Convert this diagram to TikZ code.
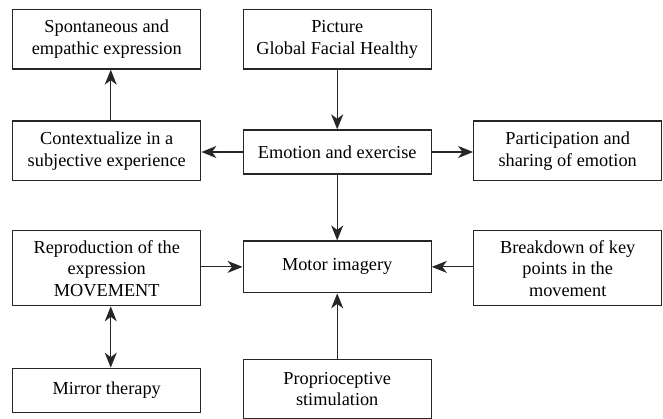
\documentclass[tikz,border=0pt]{standalone}
\usepackage{fontspec}
\setmainfont{Liberation Serif}
\usetikzlibrary{arrows.meta}
\begin{document}
\begin{tikzpicture}[x=1pt,y=-1pt,
  box/.style={draw=black!85, line width=1.3pt, minimum width=188pt, inner sep=0pt, align=center,
    font=\fontsize{18.3}{21.5}\selectfont, text=black},
  arr/.style={line width=1.1pt, draw=black!85, -{Stealth[length=15pt,width=12pt,inset=4.5pt]}},
  darr/.style={line width=1.1pt, draw=black!85, {Stealth[length=15pt,width=12pt,inset=4.5pt]}-{Stealth[length=15pt,width=12pt,inset=4.5pt]}}]
\useasboundingbox (0,0) rectangle (663,419);
\node[box, minimum height=59.7pt] (b1) at (106.75,39.2) {Spontaneous and\\empathic expression};
\node[box, minimum height=59.7pt] (b2) at (337.2,39.2) {Picture\\Global Facial Healthy};
\node[box, minimum height=59.7pt] (b3) at (106.75,150.9) {Contextualize in a\\subjective experience};
\node[box, minimum height=44pt] (b4) at (337.2,152) {Emotion and exercise};
\node[box, minimum height=59.7pt] (b5) at (567.7,150.9) {Participation and\\sharing of emotion};
\node[box, minimum height=75pt] (b6) at (106.75,268.2) {Reproduction of the\\expression\\MOVEMENT};
\node[box, minimum height=51.7pt] (b7) at (337.2,266.9) {Motor imagery};
\node[box, minimum height=75pt] (b8) at (567.7,268.2) {Breakdown of key\\points in the\\movement};
\node[box, minimum height=44pt] (b9) at (106.75,390.3) {Mirror therapy};
\node[box, minimum height=59.7pt] (b10) at (337.2,389.2) {Proprioceptive\\stimulation};
\draw[arr] (b2) -- (b4);
\draw[arr] ([xshift=4pt]b3.north) -- ([xshift=4pt]b3.north |- b1.south);
\draw[arr] (b4.west) -- (b3.east |- b4.west);
\draw[arr] (b4.east) -- (b5.west |- b4.east);
\draw[arr] (b4) -- (b7);
\draw[arr] (b6.east |- b7.west) -- (b7.west);
\draw[arr] (b8.west |- b7.east) -- (b7.east);
\draw[arr] (b10) -- (b7);
\draw[darr] ([xshift=4pt]b6.south) -- ([xshift=4pt]b6.south |- b9.north);
\end{tikzpicture}
\end{document}
